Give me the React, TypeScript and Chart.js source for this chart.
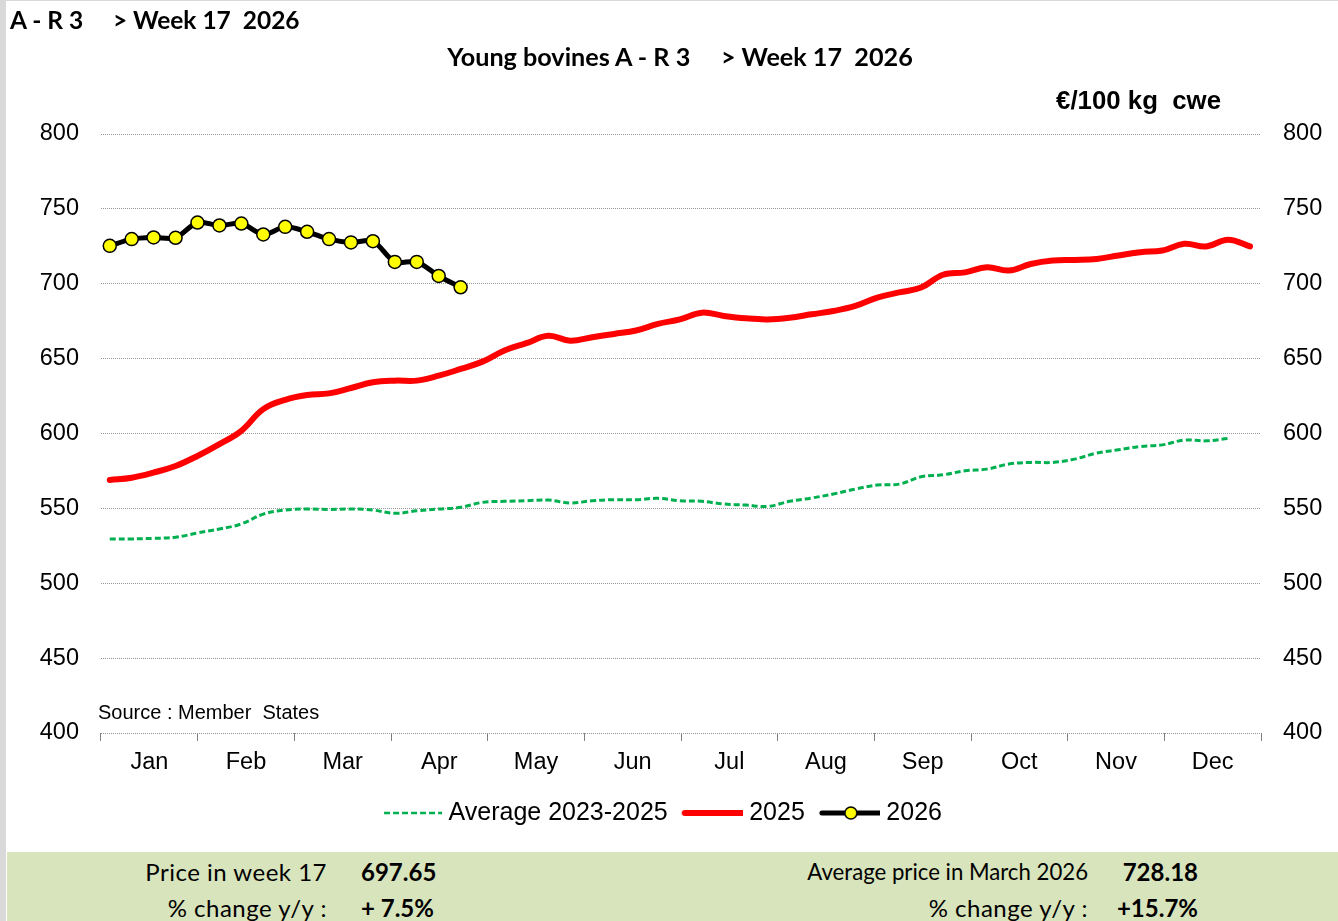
import React, { useEffect, useRef } from 'react';
import { Chart, registerables } from 'chart.js';

Chart.register(...registerables);

// ---- Data ----
const months = ['Jan', 'Feb', 'Mar', 'Apr', 'May', 'Jun', 'Jul', 'Aug', 'Sep', 'Oct', 'Nov', 'Dec'];

const avg2023_2025 = [
  529.6, 529.6, 530.0, 530.7, 533.6, 536.2, 539.6, 546.2, 548.9, 549.6,
  549.3, 549.6, 548.9, 546.7, 548.4, 549.6, 550.7, 554.0, 554.7, 555.1,
  555.6, 553.6, 555.1, 555.8, 555.8, 556.7, 555.1, 554.7, 552.9, 552.2,
  551.3, 554.7, 556.9, 559.6, 562.9, 565.6, 566.2, 571.1, 572.4, 575.1,
  576.2, 579.6, 580.7, 580.7, 582.9, 586.9, 589.1, 591.3, 592.4, 595.6,
  595.1, 596.7,
];

const y2025 = [
  569.0, 570.5, 573.9, 578.3, 585.0, 592.9, 601.8, 616.3, 622.5, 625.7,
  626.8, 630.4, 634.2, 635.3, 635.3, 638.6, 643.1, 648.0, 655.4, 660.3,
  665.2, 662.0, 664.3, 666.5, 668.8, 673.2, 676.2, 680.7, 678.5, 676.9,
  676.2, 677.3, 679.6, 681.8, 685.2, 690.8, 694.2, 697.5, 706.0, 707.6,
  711.0, 708.8, 713.2, 715.5, 715.9, 716.6, 718.9, 721.1, 722.2, 726.7,
  724.9, 729.4, 724.9,
];

const y2026 = [
  725.3, 729.8, 730.9, 730.7, 740.9, 738.9, 740.2, 732.9, 738.0, 734.7,
  729.8, 727.6, 728.4, 714.6, 714.6, 705.2, 697.65,
];

const seriesLabels = ['Average 2023-2025', '2025', '2026'];
const yMin = 400;
const yMax = 800;
const yStep = 50;

const headerText = 'A - R 3     > Week 17  2026';
const titleText = 'Young bovines A - R 3     > Week 17  2026';
const unitText = '€/100 kg  cwe';
const sourceText = 'Source : Member  States';

const footLeftLabels = ['Price in week 17', '% change y/y :'];
const footLeftValues = ['697.65', '+ 7.5%'];
const footRightLabels = ['Average price in March 2026', '% change y/y :'];
const footRightValues = ['728.18', '+15.7%'];

const toPoints = (arr: number[]) => arr.map((v, i) => ({ x: i + 1, y: v }));

function makeLegendImage(kind: number): HTMLCanvasElement {
  const c = document.createElement('canvas');
  c.width = 70;
  c.height = 20;
  const ctx = c.getContext('2d')!;
  const x0 = 12;
  const x1 = 70;
  const y = 10;
  ctx.beginPath();
  ctx.moveTo(x0, y);
  ctx.lineTo(x1, y);
  if (kind === 0) {
    ctx.strokeStyle = '#00b050';
    ctx.lineWidth = 2.5;
    ctx.setLineDash([6, 3]);
    ctx.stroke();
  } else if (kind === 1) {
    ctx.strokeStyle = '#ff0000';
    ctx.lineWidth = 6;
    ctx.lineCap = 'round';
    ctx.stroke();
  } else {
    ctx.strokeStyle = '#000000';
    ctx.lineWidth = 5;
    ctx.lineCap = 'round';
    ctx.stroke();
    ctx.beginPath();
    ctx.arc((x0 + x1) / 2, y, 6, 0, Math.PI * 2);
    ctx.fillStyle = '#ffff00';
    ctx.fill();
    ctx.lineWidth = 1.5;
    ctx.stroke();
  }
  return c;
}

const AXIS_FONT = { family: '"Liberation Sans", Arial, sans-serif', size: 23.5 };

export default function App() {
  const canvasRef = useRef<HTMLCanvasElement | null>(null);

  useEffect(() => {
    document.body.style.margin = '0';
    const canvas = canvasRef.current;
    if (!canvas) return;
    const images = [0, 1, 2].map(makeLegendImage);
    const gridColor = '#969696';

    const chart = new Chart(canvas, {
      type: 'line',
      data: {
        datasets: [
          {
            label: seriesLabels[0],
            data: toPoints(avg2023_2025),
            borderColor: '#00b050',
            borderWidth: 3,
            borderDash: [6, 3],
            pointRadius: 0,
            tension: 0.4,
            fill: false,
            order: 2,
            xAxisID: 'x',
            yAxisID: 'y',
          },
          {
            label: seriesLabels[1],
            data: toPoints(y2025),
            borderColor: '#ff0000',
            borderWidth: 6,
            pointRadius: 0,
            tension: 0.4,
            fill: false,
            order: 1,
            borderCapStyle: 'round',
            xAxisID: 'x',
            yAxisID: 'y',
          },
          {
            label: seriesLabels[2],
            data: toPoints(y2026),
            borderColor: '#000000',
            borderWidth: 5,
            pointRadius: 6.5,
            pointBackgroundColor: '#ffff00',
            pointBorderColor: '#000000',
            pointBorderWidth: 1.5,
            tension: 0.3,
            fill: false,
            order: 0,
            xAxisID: 'x',
            yAxisID: 'y',
          },
        ],
      },
      options: {
        responsive: false,
        animation: false,
        devicePixelRatio: 1,
        layout: { padding: { top: 134, bottom: 16.5, left: 0, right: 0 } },
        plugins: {
          title: { display: false },
          tooltip: { enabled: false },
          legend: {
            display: true,
            position: 'bottom',
            labels: {
              usePointStyle: true,
              pointStyleWidth: 58,
              padding: 11,
              color: '#000',
              font: { family: '"Liberation Sans", Arial, sans-serif', size: 25 },
              generateLabels: () =>
                seriesLabels.map((t, i) => ({
                  text: t,
                  datasetIndex: i,
                  pointStyle: images[i],
                  fillStyle: 'transparent',
                  strokeStyle: 'transparent',
                  lineWidth: 0,
                  hidden: false,
                  fontColor: '#000',
                })),
            },
          },
        },
        scales: {
          x: {
            type: 'linear',
            display: false,
            min: 0.6,
            max: 53.5,
          },
          xm: {
            type: 'category',
            labels: months,
            position: 'bottom',
            offset: true,
            grid: {
              offset: true,
              drawOnChartArea: false,
              drawTicks: true,
              tickLength: 8,
              color: '#7f7f7f',
              lineWidth: 1,
            },
            border: { display: false },
            ticks: { color: '#000', font: AXIS_FONT, padding: 7, maxRotation: 0, autoSkip: false },
            afterFit: (s: any) => {
              s.height = 56.5;
            },
          },
          y: {
            type: 'linear',
            position: 'left',
            min: yMin,
            max: yMax,
            ticks: { stepSize: yStep, color: '#000', font: AXIS_FONT, padding: 22 },
            grid: {
              color: gridColor,
              lineWidth: 1,
              drawTicks: false,
            },
            border: { display: false, dash: [1, 1] },
            afterFit: (s: any) => {
              s.width = 101;
            },
          },
          y2: {
            type: 'linear',
            position: 'right',
            min: yMin,
            max: yMax,
            ticks: { stepSize: yStep, color: '#000', font: AXIS_FONT, padding: 22 },
            grid: { drawOnChartArea: false, drawTicks: false },
            border: { display: false },
            afterFit: (s: any) => {
              s.width = 77;
            },
          },
        },
      },
      plugins: [
        {
          id: 'legendShift',
          afterLayout: (c: any) => {
            if (c.legend) {
              c.legend.left -= 9;
              c.legend.right -= 9;
            }
          },
        },
      ],
    } as any);

    return () => {
      chart.destroy();
    };
  }, []);

  const calibri = 'Lato, "Open Sans", sans-serif';

  return (
    <div style={{ position: 'relative', width: 1338, height: 921, background: '#fff', overflow: 'hidden' }}>
      <div style={{ position: 'absolute', left: 0, top: 0, width: 6, height: 921, background: '#d9d9d9' }} />
      <div style={{ position: 'absolute', left: 0, top: 0, width: 1338, height: 1, background: '#d9d9d9' }} />
      <canvas
        ref={canvasRef}
        width={1338}
        height={852}
        style={{ position: 'absolute', left: 0, top: 0, width: 1338, height: 852 }}
      />
      <div
        style={{
          position: 'absolute', left: 10, top: 5, fontFamily: calibri, fontWeight: 700,
          fontSize: 24.5, lineHeight: '30px', whiteSpace: 'pre', color: '#000',
        }}
      >
        {headerText}
      </div>
      <div
        style={{
          position: 'absolute', left: 280, width: 800, top: 41, textAlign: 'center', fontFamily: calibri,
          fontWeight: 700, fontSize: 25.2, lineHeight: '30px', whiteSpace: 'pre', color: '#000',
        }}
      >
        {titleText}
      </div>
      <div
        style={{
          position: 'absolute', right: 1338 - 1221, top: 85, fontFamily: '"Liberation Sans", Arial, sans-serif',
          fontWeight: 700, fontSize: 25.8, lineHeight: '30px', whiteSpace: 'pre', color: '#000',
        }}
      >
        {unitText}
      </div>
      <div
        style={{
          position: 'absolute', left: 98, top: 700, fontFamily: '"Liberation Sans", Arial, sans-serif',
          fontSize: 20, lineHeight: '24px', whiteSpace: 'pre', color: '#000',
        }}
      >
        {sourceText}
      </div>
      <div style={{ position: 'absolute', left: 7, top: 852, width: 1331, height: 69, background: '#d8e4bc' }} />
      {footLeftLabels.map((t, i) => (
        <div
          key={'fl' + i}
          style={{
            position: 'absolute', right: 1338 - 327, top: 857 + i * 36, fontFamily: calibri, fontSize: 24,
            letterSpacing: 0.5, lineHeight: '30px', whiteSpace: 'pre', color: '#000',
          }}
        >
          {t}
        </div>
      ))}
      {footLeftValues.map((t, i) => (
        <div
          key={'fv' + i}
          style={{
            position: 'absolute', left: 361, top: 857 + i * 36, fontFamily: calibri, fontSize: 24, fontWeight: 700,
            lineHeight: '30px', whiteSpace: 'pre', color: '#000',
          }}
        >
          {t}
        </div>
      ))}
      {footRightLabels.map((t, i) => (
        <div
          key={'rl' + i}
          style={{
            position: 'absolute', right: 1338 - 1088, top: 857 + i * 36, fontFamily: calibri,
            fontSize: i === 0 ? 22.2 : 24, letterSpacing: i === 0 ? 0 : 0.5,
            lineHeight: '30px', whiteSpace: 'pre', color: '#000',
          }}
        >
          {t}
        </div>
      ))}
      {footRightValues.map((t, i) => (
        <div
          key={'rv' + i}
          style={{
            position: 'absolute', right: 1338 - 1198, top: 857 + i * 36, fontFamily: calibri, fontSize: 24,
            fontWeight: 700, lineHeight: '30px', whiteSpace: 'pre', color: '#000',
          }}
        >
          {t}
        </div>
      ))}
    </div>
  );
}
